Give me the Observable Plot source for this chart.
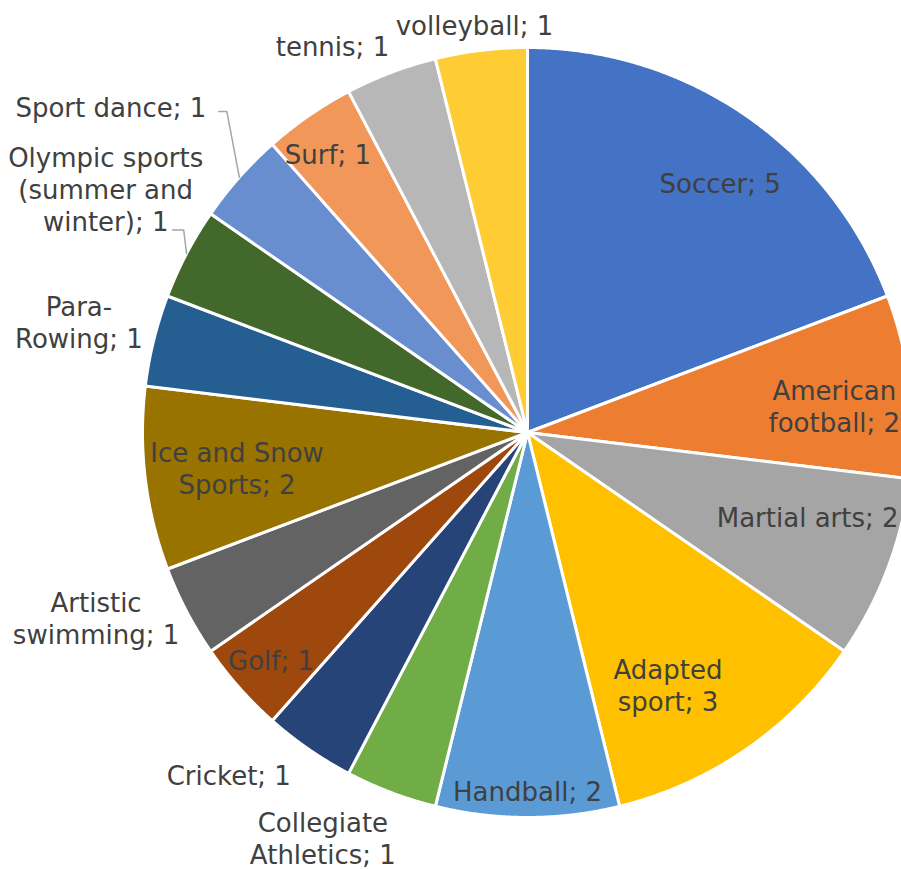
<!DOCTYPE html>
<html>
<head>
<meta charset="utf-8">
<script src="https://cdn.jsdelivr.net/npm/d3@7"></script>
<script src="https://cdn.jsdelivr.net/npm/@observablehq/plot@0.6"></script>
<style>
  html, body { margin: 0; padding: 0; background: #ffffff; }
</style>
</head>
<body>
<div id="chart"></div>
<script>
// ---- data ----
const categories = ["Soccer", "American football", "Martial arts", "Adapted sport", "Handball",
  "Collegiate Athletics", "Cricket", "Golf", "Artistic swimming", "Ice and Snow Sports",
  "Para-Rowing", "Olympic sports (summer and winter)", "Sport dance", "Surf", "tennis", "volleyball"];
const counts = [5, 2, 2, 3, 2, 1, 1, 1, 1, 2, 1, 1, 1, 1, 1, 1];
const colors = ["#4472C4", "#ED7D31", "#A5A5A5", "#FFC000", "#5B9BD5", "#70AD47", "#264478", "#9E480E",
  "#636363", "#997300", "#255E91", "#43682B", "#698ED0", "#F1975A", "#B7B7B7", "#FFCD33"];
// how each label wraps in the chart
const wrappedNames = {
  "American football": "American\nfootball",
  "Adapted sport": "Adapted\nsport",
  "Collegiate Athletics": "Collegiate\nAthletics",
  "Artistic swimming": "Artistic\nswimming",
  "Ice and Snow Sports": "Ice and Snow\nSports",
  "Para-Rowing": "Para-\nRowing",
  "Olympic sports (summer and winter)": "Olympic sports\n(summer and\nwinter)"
};

// ---- layout (label placement: radius factor, angle nudge in degrees) ----
const labelRadius = [0.82, 0.80, 0.76, 0.75, 0.93, 1.18, 1.18, 0.89, 1.22, 0.76, 1.20, 1.265, 1.374, 0.89, 1.125, 1.067];
const labelNudge  = [3, 2, -4, 5.5, 0, 6, 6.5, 0, 4.4, 0, 0, 2.3, -3.5, -1, -6, -0.5];
// leader lines: [startDx, startDy, elbowDx] in px relative to label centre
const leaders = { "Sport dance": [108, 5, 116], "Olympic sports (summer and winter)": [67, 41, 78] };

const W = 901, H = 869, CX = 527, CY = 432, R = 385;
const pie = d3.pie().sort(null).value(d => d)(counts);

const slicePts = [];
pie.forEach((p, i) => {
  const c = categories[i];
  slicePts.push({cat: c, x: 0, y: 0});
  const n = Math.max(4, Math.ceil((p.endAngle - p.startAngle) / 0.004));
  for (let k = 0; k <= n; k++) {
    const a = p.startAngle + (p.endAngle - p.startAngle) * k / n;
    slicePts.push({cat: c, x: Math.sin(a), y: Math.cos(a)});
  }
});

const labels = pie.map((p, i) => {
  const c = categories[i];
  const a = (p.startAngle + p.endAngle) / 2 + labelNudge[i] * Math.PI / 180;
  const r = labelRadius[i];
  return {cat: c, text: (wrappedNames[c] || c) + "; " + counts[i], x: r * Math.sin(a), y: r * Math.cos(a), mid: (p.startAngle + p.endAngle) / 2};
});

const leaderPts = [];
labels.forEach(l => {
  const ld = leaders[l.cat];
  if (!ld) return;
  leaderPts.push({cat: l.cat, x: l.x + ld[0] / R, y: l.y - ld[1] / R});
  leaderPts.push({cat: l.cat, x: l.x + ld[2] / R, y: l.y - ld[1] / R});
  leaderPts.push({cat: l.cat, x: Math.sin(l.mid), y: Math.cos(l.mid)});
});

const chart = Plot.plot({
  width: W,
  height: H,
  margin: 0,
  x: {domain: [-CX / R, (W - CX) / R], range: [0, W], axis: null},
  y: {domain: [-(H - CY) / R, CY / R], range: [H, 0], axis: null},
  color: {domain: categories, range: colors},
  style: {fontFamily: "'DejaVu Sans', sans-serif", background: "#ffffff", overflow: "hidden"},
  marks: [
    Plot.line(slicePts, {x: "x", y: "y", z: "cat", fill: "cat", stroke: "white", strokeWidth: 3, curve: "linear-closed", strokeLinejoin: "round"}),
    Plot.line(leaderPts, {x: "x", y: "y", z: "cat", stroke: "#A6A6A6", strokeWidth: 1.5, curve: "linear"}),
    Plot.text(labels, {x: "x", y: "y", text: "text", fill: "#404040", fontSize: 26, lineHeight: 1.23, textAnchor: "middle"})
  ]
});
document.getElementById("chart").appendChild(chart);
</script>
</body>
</html>
